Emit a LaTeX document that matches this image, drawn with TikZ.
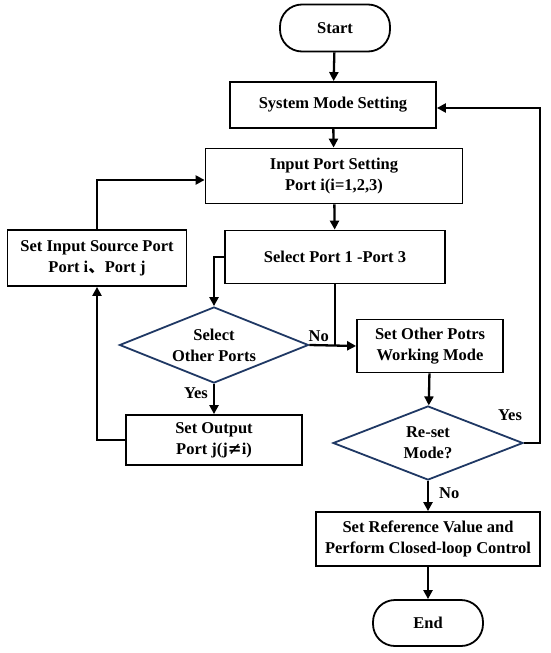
\documentclass[tikz,border=0pt]{standalone}
\usepackage{fontspec}
\setmainfont{Liberation Serif}
\usetikzlibrary{shapes.geometric,arrows.meta,positioning,calc}
\definecolor{diaNavy}{RGB}{31,56,100}
\tikzset{
  flowBox/.style={rectangle,draw=black,line width=1.8pt,fill=white,align=center,
                  inner sep=0pt,font=\fontsize{16.5}{21}\selectfont\bfseries},
  termBox/.style={flowBox,rounded corners=22pt},
  decDia/.style={diamond,aspect=2.5,draw=diaNavy,line width=1.8pt,fill=white,align=center,
                 inner sep=0pt,font=\fontsize{16.5}{21}\selectfont\bfseries},
  lbl/.style={font=\fontsize{16.5}{21}\selectfont\bfseries,inner sep=2pt},
}
\begin{document}
\begin{tikzpicture}[x=1pt,y=-1pt,
  arr/.style={-{Triangle[length=9pt,width=9pt]},line width=2.3pt},
  lin/.style={line width=2.3pt}
]
  \useasboundingbox (0,0) rectangle (550,653);
  \node[termBox,minimum width=110pt,minimum height=47pt](start) at (335,28) {Start};
  \node[flowBox,minimum width=206pt,minimum height=46pt](sysmode) at (333,105) {System Mode Setting};
  \node[flowBox,minimum width=257pt,minimum height=55pt](inport) at (334,176) {Input Port Setting\\Port i(i=1,2,3)};
  \node[flowBox,minimum width=220pt,minimum height=53pt](selport) at (335,257) {Select Port 1 -Port 3};
  \node[flowBox,minimum width=179pt,minimum height=56pt](srcport) at (97,258) {Set Input Source Port\\Port i\fontspec{Noto Sans CJK SC}、\fontspec{Liberation Serif}\bfseries Port j};
  \node[decDia,minimum width=189pt,minimum height=76pt](seldia) at (214,345) {Select\\Other Ports};
  \node[flowBox,minimum width=176pt,minimum height=50pt](outport) at (214,440) {Set Output\\Port j(j\fontspec{DejaVu Serif}\bfseries≠\fontspec{Liberation Serif}\bfseries i)};
  \node[flowBox,minimum width=146pt,minimum height=53pt](othmode) at (430,346) {Set Other Potrs\\Working Mode};
  \node[decDia,minimum width=190pt,minimum height=74pt](redia) at (428,443) {Re-set\\Mode?};
  \node[flowBox,minimum width=224pt,minimum height=54pt](refval) at (428,539) {Set Reference Value and\\Perform Closed-loop Control};
  \node[termBox,minimum width=110pt,minimum height=46pt](endn) at (428,623) {End};
  \coordinate (yesR) at (540,443);
  % main column
  \draw[arr](start)--(sysmode);
  \draw[arr](sysmode)--(inport);
  \draw[arr](inport)--(selport);
  \draw[arr](selport.west)-|(seldia.north);
  \draw[arr](seldia.south)--node[lbl,left,pos=0.3,xshift=-3pt]{Yes}(outport.north);
  % loop back on the left
  \draw[arr](outport.west)-|(srcport.south);
  \draw[arr](srcport.north)|-([yshift=-4pt]inport.west);
  % right branch
  \draw[lin](selport.south)--(selport.south|-seldia.east);
  \draw[arr](seldia.east)--node[lbl,above,pos=0.2]{No}(othmode.west);
  \draw[arr](othmode)--(redia);
  \draw[arr](redia.east)--(yesR)|-([yshift=-3pt]sysmode.east);
  \node[lbl](yesB) at (510,415) {Yes};
  \draw[arr](redia.south)--node[lbl,right,pos=0.4,xshift=8pt]{No}(refval.north);
  \draw[arr](refval)--(endn);
\end{tikzpicture}
\end{document}
